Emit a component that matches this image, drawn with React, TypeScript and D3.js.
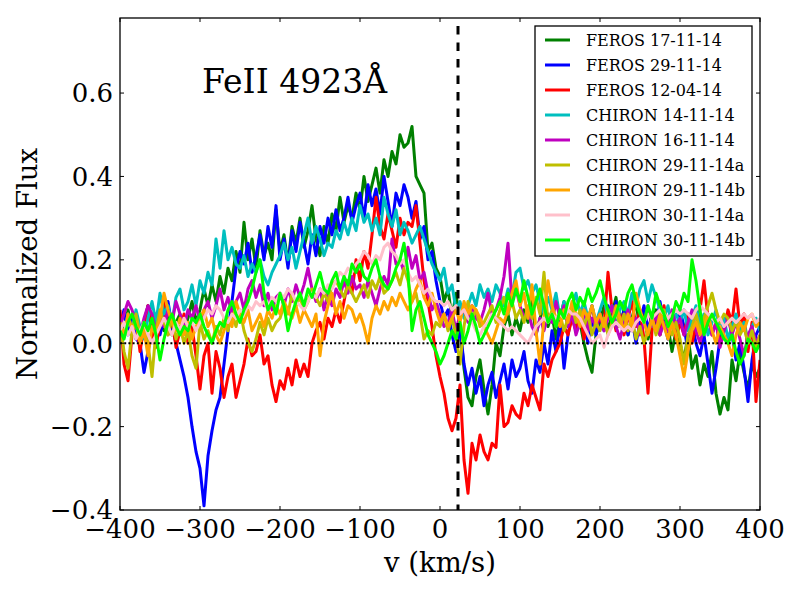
import React from 'react';
import * as d3 from 'd3';

// velocity grid (km/s), one sample every 5 km/s
const velocity = d3.range(-400, 401, 5);

const feros171114 = [
  0.06, 0.02, 0.08, 0.03, 0.07, 0.01, 0.05, 0.09, 0.04, 0.00, 0.06, 0.03, 0.08, 0.02, 0.05, 0.07, 0.03, 0.06, 0.10, 0.05,
  0.08, 0.13, 0.09, 0.14, 0.10, 0.16, 0.12, 0.18, 0.15, 0.22, 0.17, 0.29, 0.20, 0.25, 0.18, 0.27, 0.21, 0.24, 0.20, 0.32,
  0.22, 0.26, 0.19, 0.28, 0.24, 0.30, 0.23, 0.27, 0.33, 0.25, 0.21, 0.28, 0.24, 0.31, 0.27, 0.35, 0.29, 0.33, 0.30, 0.36,
  0.32, 0.40, 0.34, 0.38, 0.42, 0.36, 0.44, 0.40, 0.46, 0.43, 0.50, 0.47, 0.48, 0.52, 0.40, 0.38, 0.36, 0.22, 0.24, 0.18,
  0.16, 0.10, 0.13, 0.06, 0.12, 0.04, -0.06, -0.13, -0.15, -0.08, -0.04, -0.11, -0.17, -0.10, 0.00, -0.03, 0.04, 0.07, 0.02, 0.06,
  0.03, 0.08, 0.05, 0.10, 0.02, 0.06, 0.09, 0.04, 0.07, 0.01, 0.06, 0.10, 0.04, 0.08, 0.03, 0.05, 0.00, -0.04, -0.07, 0.02,
  0.05, 0.09, 0.03, 0.07, 0.11, 0.04, 0.08, 0.02, 0.06, 0.10, 0.03, 0.07, 0.01, 0.05, 0.08, 0.02, 0.06, 0.04, -0.02, 0.03,
  0.00, -0.04, 0.02, -0.06, -0.03, -0.10, -0.05, -0.08, -0.02, -0.12, -0.17, -0.13, -0.16, -0.04, -0.09, -0.02, -0.07, -0.11, -0.05, -0.08,
  -0.06,
];

const feros291114 = [
  0.04, 0.08, 0.02, 0.06, 0.01, 0.00, -0.07, -0.02, 0.03, 0.07, 0.02, 0.06, 0.10, 0.04, 0.00, -0.04, -0.08, -0.13, -0.20, -0.26,
  -0.30, -0.39, -0.27, -0.21, -0.16, -0.13, -0.05, 0.03, 0.10, 0.18, 0.22, 0.19, 0.24, 0.17, 0.21, 0.26, 0.20, 0.28, 0.23, 0.33,
  0.20, 0.25, 0.18, 0.27, 0.22, 0.29, 0.24, 0.19, 0.26, 0.21, 0.28, 0.24, 0.30, 0.26, 0.32, 0.27, 0.30, 0.35, 0.29, 0.33,
  0.36, 0.30, 0.38, 0.33, 0.37, 0.31, 0.40, 0.34, 0.28, 0.36, 0.33, 0.38, 0.35, 0.30, 0.34, 0.25, 0.28, 0.20, 0.22, 0.15,
  0.10, 0.06, 0.08, 0.02, -0.02, 0.04, -0.05, -0.10, -0.06, -0.12, -0.08, -0.15, -0.10, -0.07, -0.13, -0.09, -0.05, -0.11, -0.04, -0.08,
  -0.06, -0.02, -0.09, -0.12, -0.04, -0.07, 0.00, -0.05, 0.03, -0.02, 0.05, -0.06, 0.02, 0.07, 0.03, 0.08, 0.04, 0.00, 0.06, 0.02,
  0.07, 0.03, 0.09, 0.05, 0.10, 0.04, 0.08, 0.02, 0.06, 0.00, 0.05, 0.09, 0.03, 0.07, 0.04, 0.10, 0.05, 0.01, 0.06, 0.03,
  0.08, 0.04, -0.02, 0.05, 0.00, -0.03, 0.02, -0.05, -0.12, -0.06, 0.01, 0.04, 0.07, 0.02, -0.04, 0.00, -0.06, -0.14, -0.04, 0.02,
  0.04,
];

const feros120414 = [
  0.08, -0.05, -0.09, 0.02, 0.06, -0.02, 0.04, 0.09, 0.03, -0.01, 0.05, 0.10, 0.02, 0.06, -0.01, 0.03, 0.07, 0.00, 0.04, -0.03,
  -0.11, -0.03, 0.00, -0.12, -0.02, -0.06, -0.13, -0.08, -0.05, -0.13, -0.09, -0.05, 0.01, -0.03, -0.02, 0.02, -0.05, -0.03, -0.10, -0.14,
  -0.09, -0.11, -0.06, -0.10, -0.04, -0.08, -0.05, -0.08, 0.00, 0.03, 0.05, 0.01, 0.06, 0.04, 0.08, 0.05, 0.10, 0.15, 0.12, 0.20,
  0.15, 0.22, 0.18, 0.26, 0.35, 0.28, 0.25, 0.31, 0.27, 0.23, 0.30, 0.26, 0.29, 0.28, 0.33, 0.24, 0.15, 0.10, 0.04, -0.03,
  -0.08, -0.12, -0.18, -0.21, -0.18, -0.10, -0.28, -0.36, -0.24, -0.28, -0.22, -0.26, -0.28, -0.24, -0.25, -0.10, -0.20, -0.19, -0.15, -0.17,
  -0.18, -0.12, -0.15, -0.10, -0.13, -0.16, -0.05, -0.08, -0.04, -0.02, 0.00, 0.04, 0.02, 0.06, 0.03, 0.07, 0.01, 0.05, 0.09, 0.04,
  0.06, 0.04, 0.17, 0.08, 0.03, 0.07, 0.02, 0.06, 0.10, 0.04, 0.08, 0.01, -0.12, 0.03, 0.07, 0.02, 0.09, 0.04, 0.06, 0.01,
  0.05, 0.02, 0.07, 0.00, 0.04, 0.08, 0.15, 0.06, 0.02, 0.05, 0.00, 0.03, 0.08, 0.05, 0.13, 0.04, 0.07, -0.02, 0.05, -0.14,
  -0.04,
];

const chiron141114 = [
  0.05, 0.02, 0.07, 0.03, 0.08, 0.04, 0.01, 0.06, 0.10, 0.05, 0.12, 0.07, 0.09, 0.05, 0.11, 0.13, 0.08, 0.10, 0.14, 0.09,
  0.15, 0.12, 0.17, 0.14, 0.25, 0.18, 0.27, 0.20, 0.23, 0.19, 0.18, 0.21, 0.16, 0.19, 0.17, 0.20, 0.16, 0.14, 0.17, 0.19,
  0.21, 0.24, 0.20, 0.23, 0.18, 0.22, 0.26, 0.30, 0.24, 0.28, 0.25, 0.21, 0.24, 0.23, 0.27, 0.25, 0.29, 0.26, 0.30, 0.27,
  0.33, 0.29, 0.31, 0.27, 0.30, 0.26, 0.35, 0.31, 0.28, 0.32, 0.26, 0.29, 0.27, 0.24, 0.26, 0.28, 0.25, 0.22, 0.19, 0.17,
  0.15, 0.18, 0.12, 0.14, 0.08, 0.10, 0.06, 0.09, 0.12, 0.09, 0.14, 0.11, 0.13, 0.10, 0.14, 0.12, 0.09, 0.13, 0.11, 0.17,
  0.18, 0.13, 0.15, 0.12, 0.14, 0.10, 0.07, 0.11, 0.08, 0.12, 0.06, 0.10, 0.05, 0.09, 0.12, 0.07, 0.10, 0.06, 0.09, 0.05,
  0.08, 0.11, 0.06, 0.09, 0.04, 0.08, 0.10, 0.07, 0.12, 0.09, 0.13, 0.15, 0.10, 0.14, 0.11, 0.08, 0.06, 0.09, 0.04, 0.07,
  0.05, 0.08, 0.03, 0.06, 0.09, 0.04, 0.07, 0.02, 0.05, 0.08, 0.03, 0.06, 0.01, 0.04, 0.07, 0.03, 0.05, 0.00, 0.04, 0.06,
  0.03,
];

const chiron161114 = [
  0.04, 0.07, 0.10, 0.08, 0.05, 0.02, 0.06, 0.09, 0.07, 0.03, 0.06, 0.04, 0.08, 0.05, 0.10, 0.07, 0.04, 0.08, 0.06, 0.09,
  0.05, 0.08, 0.10, 0.06, 0.09, 0.13, 0.08, 0.11, 0.07, 0.10, 0.12, 0.08, 0.13, 0.15, 0.11, 0.14, 0.09, 0.12, 0.08, 0.11,
  0.12, 0.09, 0.13, 0.10, 0.14, 0.11, 0.14, 0.18, 0.13, 0.10, 0.13, 0.08, 0.12, 0.09, 0.13, 0.11, 0.15, 0.12, 0.16, 0.13,
  0.14, 0.11, 0.15, 0.12, 0.09, 0.13, 0.16, 0.14, 0.25, 0.19, 0.20, 0.17, 0.23, 0.18, 0.21, 0.15, 0.17, 0.12, 0.08, 0.10,
  0.07, 0.04, 0.05, 0.08, 0.03, 0.07, 0.08, 0.05, 0.09, 0.06, 0.05, 0.08, 0.12, 0.07, 0.08, 0.11, 0.16, 0.24, 0.10, 0.13,
  0.09, 0.06, 0.08, 0.04, 0.02, 0.06, 0.03, 0.07, 0.05, 0.10, 0.06, 0.09, 0.04, 0.07, 0.02, 0.05, 0.08, 0.03, 0.06, 0.04,
  0.07, 0.03, 0.06, 0.09, 0.04, 0.01, 0.05, 0.08, 0.03, 0.06, 0.02, 0.05, 0.09, 0.04, 0.07, 0.02, 0.05, 0.03, 0.08, 0.04,
  0.06, 0.02, 0.05, 0.08, 0.03, 0.00, 0.04, 0.07, 0.02, 0.05, -0.01, 0.03, 0.06, 0.02, 0.05, 0.01, -0.03, 0.02, 0.04, 0.00,
  0.02,
];

const chiron291114a = [
  0.05, -0.02, -0.06, 0.03, 0.07, 0.02, 0.04, 0.00, -0.08, 0.03, 0.08, 0.05, 0.02, 0.06, 0.01, 0.04, 0.00, 0.03, -0.03, -0.06,
  0.05, 0.01, 0.03, 0.00, 0.04, 0.02, 0.06, 0.03, 0.07, 0.04, 0.08, 0.03, 0.00, -0.02, 0.01, 0.05, 0.02, 0.06, 0.03, 0.05,
  0.06, 0.09, 0.07, 0.12, 0.09, 0.11, 0.08, 0.10, 0.13, 0.11, 0.09, 0.12, 0.10, 0.14, 0.15, 0.13, 0.11, 0.14, 0.12, 0.10,
  0.12, 0.14, 0.11, 0.15, 0.13, 0.16, 0.12, 0.13, 0.15, 0.17, 0.14, 0.18, 0.15, 0.10, 0.12, 0.07, 0.01, 0.03, 0.02, 0.05,
  0.04, 0.07, 0.03, 0.06, 0.02, -0.05, 0.04, 0.10, 0.06, 0.08, 0.04, 0.05, 0.07, 0.09, 0.05, 0.08, 0.11, 0.07, 0.10, 0.06,
  0.08, 0.05, 0.09, 0.06, 0.11, 0.07, 0.17, 0.05, 0.08, 0.04, 0.07, 0.03, 0.06, 0.09, 0.05, 0.08, 0.04, 0.07, 0.02, 0.05,
  0.03, 0.06, 0.02, 0.05, 0.08, 0.04, 0.07, 0.03, 0.06, 0.01, 0.04, 0.00, 0.03, 0.06, 0.02, 0.05, 0.08, 0.04, 0.02, 0.05,
  0.01, -0.05, 0.02, 0.04, 0.07, 0.03, 0.06, 0.09, 0.12, 0.08, 0.05, 0.07, 0.06, 0.03, 0.05, 0.02, 0.04, 0.00, 0.03, -0.01,
  0.02,
];

const chiron291114b = [
  0.05, 0.02, 0.07, 0.03, 0.05, 0.00, 0.03, -0.03, 0.04, 0.02, 0.06, 0.12, 0.08, 0.05, 0.03, 0.06, 0.02, 0.05, 0.01, 0.04,
  0.06, 0.08, 0.04, 0.06, 0.02, 0.00, 0.03, 0.06, 0.04, 0.10, 0.07, 0.05, 0.08, 0.03, 0.05, 0.07, 0.04, 0.08, 0.06, 0.09,
  0.07, 0.10, 0.08, 0.06, 0.09, 0.05, 0.08, 0.06, 0.04, 0.07, -0.03, 0.05, 0.09, 0.12, 0.07, 0.10, 0.06, 0.09, 0.08, 0.05,
  0.07, 0.04, 0.00, 0.06, 0.09, 0.07, 0.10, 0.08, 0.11, 0.09, 0.12, 0.10, 0.08, 0.10, 0.13, 0.15, 0.11, 0.09, 0.12, 0.08,
  0.05, 0.07, 0.04, 0.06, 0.08, 0.05, 0.10, 0.07, 0.09, 0.08, 0.06, 0.04, 0.02, 0.00, 0.03, 0.06, 0.05, 0.08, 0.12, 0.15,
  0.09, 0.12, 0.06, 0.14, 0.03, -0.05, 0.06, 0.15, 0.09, 0.06, 0.04, 0.08, 0.05, 0.10, 0.07, 0.04, 0.08, 0.06, 0.09, 0.05,
  0.07, 0.04, 0.08, 0.05, 0.09, 0.06, 0.03, 0.07, 0.04, 0.12, 0.08, 0.05, 0.02, 0.06, 0.03, 0.07, 0.04, 0.01, 0.05, 0.02,
  -0.03, -0.08, -0.02, 0.03, 0.05, 0.02, 0.04, 0.07, 0.03, 0.00, 0.04, 0.02, 0.00, -0.03, 0.02, 0.05, 0.03, 0.06, 0.07, 0.04,
  0.05,
];

const chiron301114a = [
  0.03, 0.05, 0.02, 0.04, 0.01, 0.03, 0.05, 0.02, 0.00, 0.02, 0.04, 0.06, 0.04, 0.02, 0.05, 0.03, 0.06, 0.04, 0.05, 0.03,
  0.05, 0.06, 0.08, 0.07, 0.09, 0.08, 0.06, 0.05, 0.07, 0.06, 0.08, 0.07, 0.09, 0.08, 0.10, 0.09, 0.10, 0.08, 0.11, 0.10,
  0.12, 0.11, 0.13, 0.12, 0.10, 0.09, 0.08, 0.10, 0.12, 0.11, 0.13, 0.12, 0.14, 0.13, 0.15, 0.17, 0.16, 0.18, 0.17, 0.19,
  0.20, 0.22, 0.21, 0.19, 0.21, 0.20, 0.23, 0.24, 0.22, 0.21, 0.19, 0.20, 0.17, 0.15, 0.16, 0.14, 0.12, 0.13, 0.11, 0.10,
  0.10, 0.09, 0.10, 0.08, 0.09, 0.07, 0.08, 0.06, 0.05, 0.03, 0.02, 0.04, 0.05, 0.07, 0.06, 0.05, 0.04, 0.03, 0.04, 0.03,
  0.02, 0.01, 0.00, 0.02, 0.04, 0.05, 0.06, 0.05, 0.07, 0.06, 0.07, 0.06, 0.08, 0.07, 0.07, 0.06, 0.04, 0.02, 0.00, 0.01,
  0.02, -0.01, 0.02, 0.04, 0.05, 0.04, 0.03, 0.04, 0.03, 0.05, 0.06, 0.05, 0.07, 0.06, 0.07, 0.08, 0.07, 0.06, 0.07, 0.08,
  0.07, 0.08, 0.07, 0.06, 0.08, 0.09, 0.08, 0.07, 0.06, 0.05, 0.06, 0.04, 0.05, 0.06, 0.05, 0.06, 0.07, 0.06, 0.07, 0.05,
  0.06,
];

const chiron301114b = [
  0.03, 0.01, 0.05, 0.07, 0.04, 0.02, 0.05, 0.03, 0.06, 0.02, -0.04, 0.01, 0.05, 0.07, 0.04, 0.02, 0.04, 0.03, 0.06, 0.05,
  0.07, 0.04, 0.02, 0.00, 0.03, 0.05, 0.04, 0.08, 0.10, 0.07, 0.05, 0.08, 0.10, 0.13, 0.17, 0.20, 0.12, 0.08, 0.10, 0.07,
  0.12, 0.09, 0.03, 0.07, 0.10, 0.12, 0.09, 0.13, 0.11, 0.14, 0.17, 0.13, 0.12, 0.15, 0.17, 0.13, 0.16, 0.14, 0.19, 0.17,
  0.19, 0.16, 0.15, 0.18, 0.20, 0.16, 0.14, 0.13, 0.15, 0.18, 0.20, 0.24, 0.17, 0.03, 0.08, 0.10, 0.06, 0.02, 0.00, -0.02,
  -0.05, -0.03, 0.00, 0.03, 0.01, 0.05, 0.00, 0.03, 0.07, 0.04, 0.00, 0.02, 0.04, 0.06, 0.08, 0.10, 0.07, 0.12, 0.09, 0.13,
  0.10, 0.15, 0.11, 0.07, 0.10, 0.13, 0.09, 0.05, 0.07, 0.04, 0.08, 0.06, 0.10, 0.12, 0.08, 0.11, 0.09, 0.13, 0.10, 0.12,
  0.15, 0.11, 0.08, 0.05, 0.07, 0.10, 0.08, 0.12, 0.14, 0.10, 0.07, 0.05, 0.09, 0.06, 0.12, 0.09, 0.07, 0.04, 0.06, 0.10,
  0.08, 0.12, 0.10, 0.20, 0.15, 0.08, 0.02, 0.05, 0.07, 0.05, 0.03, 0.01, 0.00, 0.02, -0.02, -0.05, -0.03, 0.01, 0.00, -0.02,
  0.00,
];

const seriesNames = [
  'FEROS 17-11-14', 'FEROS 29-11-14', 'FEROS 12-04-14',
  'CHIRON 14-11-14', 'CHIRON 16-11-14', 'CHIRON 29-11-14a',
  'CHIRON 29-11-14b', 'CHIRON 30-11-14a', 'CHIRON 30-11-14b',
];
const seriesColors = [
  '#008000', '#0000ff', '#ff0000', '#00bfbf', '#bf00bf', '#bfbf00', '#ffa500', '#ffc0cb', '#00ff00',
];
const seriesValues = [
  feros171114, feros291114, feros120414, chiron141114, chiron161114,
  chiron291114a, chiron291114b, chiron301114a, chiron301114b,
];

const xTicks = [-400, -300, -200, -100, 0, 100, 200, 300, 400];
const yTicks = [-0.4, -0.2, 0.0, 0.2, 0.4, 0.6];
const restVelocity = 22.5; // dashed marker
const title = 'FeII 4923Å';

const font = "'DejaVu Serif', serif";

const App: React.FC = () => {
  const width = 800;
  const height = 600;
  const margin = { top: 18, right: 40, bottom: 90, left: 120 };
  const innerW = width - margin.left - margin.right;
  const innerH = height - margin.top - margin.bottom;

  const x = d3.scaleLinear().domain([-400, 400]).range([0, innerW]);
  const y = d3.scaleLinear().domain([-0.4, 0.78]).range([innerH, 0]);

  const line = d3.line<number>()
    .x((_, i) => x(velocity[i]))
    .y(d => y(d));

  const minus = (s: string) => s.replace('-', '\u2212');

  return (
    <svg width={width} height={height}
      style={{ position: 'absolute', left: 0, top: 0, background: '#fff' }}
      fontFamily={font}>
      <rect width={width} height={height} fill="#fff" />
      <defs>
        <clipPath id="plot">
          <rect width={innerW} height={innerH} />
        </clipPath>
      </defs>
      <g transform={`translate(${margin.left},${margin.top})`}>
        <g clipPath="url(#plot)">
          {seriesValues.map((vals, i) => (
            <path key={seriesNames[i]} d={line(vals) || ''} fill="none"
              stroke={seriesColors[i]} strokeWidth={3} strokeLinejoin="round" />
          ))}
          <line x1={0} x2={innerW} y1={y(0)} y2={y(0)} stroke="#000"
            strokeWidth={2} strokeDasharray="2 2.2" />
          <line x1={x(restVelocity)} x2={x(restVelocity)} y1={0} y2={innerH}
            stroke="#000" strokeWidth={3} strokeDasharray="8.5 8" strokeDashoffset={-8} />
        </g>

        {/* ticks, inside on all four sides */}
        {xTicks.map(t => (
          <g key={`xt${t}`}>
            <line x1={x(t)} x2={x(t)} y1={innerH} y2={innerH - 4} stroke="#000" />
            <line x1={x(t)} x2={x(t)} y1={0} y2={4} stroke="#000" />
            <text x={x(t)} y={innerH + 28} textAnchor="middle" fontSize={26}>
              {minus(String(t))}
            </text>
          </g>
        ))}
        {yTicks.map(t => (
          <g key={`yt${t}`}>
            <line x1={0} x2={4} y1={y(t)} y2={y(t)} stroke="#000" />
            <line x1={innerW} x2={innerW - 4} y1={y(t)} y2={y(t)} stroke="#000" />
            <text x={-7} y={y(t)} dy="0.36em" textAnchor="end" fontSize={26}>
              {minus(t.toFixed(1))}
            </text>
          </g>
        ))}
        <rect width={innerW} height={innerH} fill="none" stroke="#000" strokeWidth={1.3} />

        <text x={82} y={75} fontSize={33}>{title}</text>

        {/* legend */}
        <g transform={`translate(${innerW - 225},8)`}>
          <rect width={217} height={230} fill="#fff" stroke="#000" strokeWidth={1.3} />
          {seriesNames.map((name, i) => (
            <g key={name} transform={`translate(0,${14 + i * 25})`}>
              <line x1={10} x2={35} y1={0} y2={0} stroke={seriesColors[i]} strokeWidth={3} />
              <text x={51} y={0} dy="0.35em" fontSize={16}>{name}</text>
            </g>
          ))}
        </g>
      </g>

      <text x={margin.left + innerW / 2} y={572} textAnchor="middle" fontSize={27.5}>v (km/s)</text>
      <text transform={`translate(37,${margin.top + innerH / 2}) rotate(-90)`} textAnchor="middle"
        fontSize={27.5}>Normalized Flux</text>
    </svg>
  );
};

export default App;
